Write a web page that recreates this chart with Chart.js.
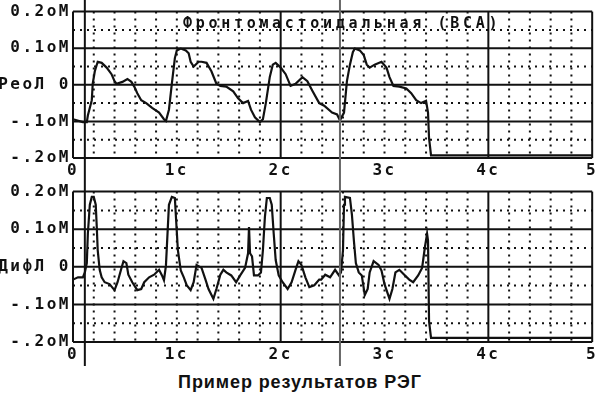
<!DOCTYPE html>
<html lang="ru">

<head>
    <meta charset="UTF-8">
    <title>Пример результатов РЭГ</title>
    <script src="https://cdn.jsdelivr.net/npm/chart.js"></script>
    <style>
        body {
            margin: 0;
            width: 600px;
            height: 410px;
            background: #fff;
            position: relative;
            overflow: hidden;
        }

        canvas {
            position: absolute;
            left: 0;
        }

        #reoChart { top: 0; }
        #difChart { top: 180px; }

        .caption {
            position: absolute;
            top: 372px;
            left: 0;
            width: 600px;
            text-align: center;
            font: bold 18px "Liberation Sans", Arial, sans-serif;
            letter-spacing: 0.9px;
            color: #111;
        }
    </style>
</head>

<body>
    <canvas id="reoChart" width="600" height="180"></canvas>
    <canvas id="difChart" width="600" height="186"></canvas>
    <div class="caption">Пример результатов РЭГ</div>

    <script>
        // x tick labels (seconds) and y tick labels for both panels
        const xTickLabels = ["0", "1c", "2c", "3c", "4c", "5"];
        const reoYLabels = ["-.2oM", "-.1oM", "РеоЛ 0", "0.1oM", "0.2oM"];
        const difYLabels = ["-.2oM", "-.1oM", "ДифЛ 0", "0.1oM", "0.2oM"];
        const reoTitle = "Фронтомастоидальная (ВСА)";

        // the two vertical cursor lines, in seconds
        const cursorTimes = [0.114, 2.571];

        // rheogram (top panel)
        const reoTime = [0, 0.095, 0.133, 0.143, 0.181, 0.19, 0.21, 0.238, 0.276, 0.324, 0.371, 0.4, 0.419, 0.476, 0.524, 0.562, 0.59, 0.619, 0.657, 0.705, 0.762, 0.829, 0.876, 0.895, 0.924, 0.952, 0.981, 1.0, 1.038, 1.086, 1.114, 1.133, 1.162, 1.21, 1.238, 1.286, 1.333, 1.381, 1.419, 1.476, 1.543, 1.59, 1.638, 1.686, 1.714, 1.752, 1.8, 1.829, 1.857, 1.895, 1.924, 1.952, 2.0, 2.048, 2.095, 2.143, 2.21, 2.257, 2.305, 2.371, 2.419, 2.495, 2.543, 2.571, 2.61, 2.638, 2.667, 2.695, 2.714, 2.762, 2.8, 2.829, 2.857, 2.905, 2.971, 3.019, 3.048, 3.086, 3.143, 3.21, 3.257, 3.305, 3.352, 3.4, 3.419, 3.429, 3.448, 5.0];
        const reoValues = [-0.094, -0.102, -0.102, -0.084, -0.042, 0.003, 0.037, 0.063, 0.06, 0.047, 0.029, 0.01, 0.003, 0.008, 0.016, 0.008, -0.005, -0.023, -0.042, -0.05, -0.063, -0.076, -0.094, -0.099, -0.068, 0.003, 0.073, 0.094, 0.099, 0.094, 0.086, 0.063, 0.05, 0.063, 0.063, 0.06, 0.037, 0.003, -0.003, -0.005, -0.018, -0.037, -0.05, -0.044, -0.068, -0.089, -0.102, -0.094, -0.05, 0.021, 0.055, 0.06, 0.047, 0.029, -0.003, 0.003, 0.021, 0.01, -0.016, -0.05, -0.057, -0.076, -0.081, -0.097, -0.076, 0.01, 0.055, 0.089, 0.099, 0.094, 0.081, 0.055, 0.047, 0.055, 0.063, 0.047, 0.021, -0.003, -0.005, -0.01, -0.023, -0.042, -0.05, -0.044, -0.076, -0.146, -0.193, -0.193];

        // differential rheogram (bottom panel)
        const difTime = [0, 0.048, 0.095, 0.114, 0.133, 0.143, 0.162, 0.181, 0.2, 0.219, 0.229, 0.238, 0.257, 0.276, 0.305, 0.352, 0.4, 0.429, 0.467, 0.486, 0.514, 0.533, 0.571, 0.619, 0.657, 0.686, 0.733, 0.781, 0.829, 0.857, 0.876, 0.895, 0.924, 0.952, 0.981, 0.99, 1.01, 1.038, 1.067, 1.095, 1.133, 1.162, 1.19, 1.238, 1.276, 1.305, 1.352, 1.381, 1.419, 1.448, 1.476, 1.524, 1.571, 1.61, 1.657, 1.686, 1.695, 1.705, 1.724, 1.743, 1.781, 1.81, 1.829, 1.848, 1.867, 1.895, 1.914, 1.933, 1.952, 1.981, 2.019, 2.067, 2.105, 2.143, 2.171, 2.2, 2.238, 2.276, 2.324, 2.371, 2.39, 2.429, 2.476, 2.524, 2.562, 2.581, 2.6, 2.61, 2.619, 2.667, 2.686, 2.705, 2.724, 2.752, 2.781, 2.81, 2.838, 2.857, 2.895, 2.943, 2.971, 3.0, 3.048, 3.076, 3.105, 3.143, 3.19, 3.238, 3.276, 3.324, 3.362, 3.39, 3.41, 3.419, 3.429, 3.448, 5.0];
        const difValues = [-0.034, -0.028, -0.028, -0.015, 0.01, 0.088, 0.165, 0.186, 0.186, 0.165, 0.106, 0.044, -0.008, -0.028, -0.041, -0.046, -0.062, -0.041, -0.003, 0.015, 0.01, -0.021, -0.041, -0.062, -0.059, -0.041, -0.028, -0.021, -0.008, -0.023, -0.036, 0.003, 0.165, 0.186, 0.183, 0.139, 0.044, -0.01, -0.028, -0.049, -0.062, -0.041, 0.005, -0.003, -0.034, -0.059, -0.085, -0.059, -0.021, -0.008, -0.015, -0.023, -0.041, -0.023, -0.003, 0.036, 0.106, 0.036, 0.028, -0.023, -0.023, -0.015, 0.044, 0.132, 0.183, 0.183, 0.165, 0.088, 0.018, -0.023, -0.041, -0.059, -0.041, -0.008, 0.015, 0.005, -0.028, -0.054, -0.049, -0.034, -0.034, -0.021, -0.028, -0.008, -0.023, -0.015, 0.044, 0.165, 0.186, 0.183, 0.139, 0.07, 0.01, -0.015, -0.023, -0.075, -0.059, -0.015, 0.015, 0.005, -0.01, -0.046, -0.085, -0.059, -0.015, -0.008, -0.021, -0.034, -0.041, -0.023, -0.003, 0.054, 0.088, 0.07, -0.145, -0.189, -0.189];

        const ink = "#111";
        const monoFont = '"DejaVu Sans Mono", monospace';

        // draws the monitor-style grid, cursors and panel title
        const regPlugin = {
            id: "regPlugin",
            beforeDraw(chart) {
                // wide old-monitor lettering for the tick labels
                chart.ctx.letterSpacing = "2.5px";
            },
            beforeDatasetsDraw(chart) {
                const { ctx, chartArea: a, scales: { x, y } } = chart;
                ctx.save();
                ctx.strokeStyle = ink;
                ctx.lineWidth = 2;

                // dotted lines every 0.2 s and every 0.05
                ctx.setLineDash([2, 5]);
                for (let i = 1; i < 25; i++) {
                    if (i % 10 === 0) continue;
                    drawLine(ctx, x.getPixelForValue(i * 0.2), a.top, x.getPixelForValue(i * 0.2), a.bottom);
                }
                [-0.15, -0.05, 0.05, 0.15].forEach(v => {
                    drawLine(ctx, a.left, y.getPixelForValue(v), a.right, y.getPixelForValue(v));
                });

                // solid lines
                ctx.setLineDash([]);
                [0, 2, 4, 5].forEach(t => {
                    drawLine(ctx, x.getPixelForValue(t), a.top, x.getPixelForValue(t), a.bottom);
                });
                [-0.2, -0.1, 0, 0.1, 0.2].forEach(v => {
                    drawLine(ctx, a.left, y.getPixelForValue(v), a.right, y.getPixelForValue(v));
                });
                ctx.restore();
            },
            afterDatasetsDraw(chart, args, opts) {
                const { ctx, chartArea: a, scales: { x } } = chart;
                ctx.save();
                ctx.lineWidth = 2;
                cursorTimes.forEach((t, i) => {
                    ctx.strokeStyle = i === 0 ? ink : "#666";
                    drawLine(ctx, x.getPixelForValue(t), 0, x.getPixelForValue(t), chart.height);
                });

                if (opts.title) {
                    ctx.fillStyle = ink;
                    ctx.font = "bold 15px " + monoFont;
                    ctx.letterSpacing = "3.7px";
                    ctx.textBaseline = "middle";
                    ctx.textAlign = "left";
                    ctx.fillText(opts.title, a.left + 110, a.top + 13);
                }
                ctx.restore();
            }
        };

        function drawLine(ctx, x1, y1, x2, y2) {
            ctx.beginPath();
            ctx.moveTo(x1, y1);
            ctx.lineTo(x2, y2);
            ctx.stroke();
        }

        function makeChart(id, times, values, yLabels, topPad, xHeight, title) {
            const ctx = document.getElementById(id).getContext("2d");
            const points = times.map((t, i) => ({ x: t, y: values[i] }));

            return new Chart(ctx, {
                type: "line",
                data: {
                    datasets: [{
                        data: points,
                        borderColor: ink,
                        borderWidth: 2.2,
                        pointRadius: 0,
                        tension: 0,
                        fill: false
                    }]
                },
                options: {
                    responsive: false,
                    animation: false,
                    devicePixelRatio: 1,
                    layout: { padding: { top: topPad, right: 2, left: 0, bottom: 0 }, autoPadding: false },
                    plugins: {
                        legend: { display: false },
                        tooltip: { enabled: false },
                        regPlugin: { title: title }
                    },
                    scales: {
                        x: {
                            type: "linear",
                            min: 0,
                            max: 5,
                            grid: { display: false, drawTicks: false },
                            border: { display: false },
                            afterFit(s) { s.height = xHeight; },
                            ticks: {
                                stepSize: 1,
                                autoSkip: false,
                                maxRotation: 0,
                                padding: 3,
                                color: ink,
                                font: { family: monoFont, weight: "bold", size: 16 },
                                callback: v => xTickLabels[Math.round(v)]
                            }
                        },
                        y: {
                            min: -0.2,
                            max: 0.2,
                            grid: { display: false, drawTicks: false },
                            border: { display: false },
                            afterFit(s) { s.width = 73; },
                            ticks: {
                                stepSize: 0.1,
                                padding: 2,
                                color: ink,
                                font: { family: monoFont, weight: "bold", size: 16 },
                                callback: v => yLabels[Math.round((v + 0.2) * 10)]
                            }
                        }
                    }
                },
                plugins: [regPlugin]
            });
        }

        makeChart("reoChart", reoTime, reoValues, reoYLabels, 5, 22, reoTitle);
        makeChart("difChart", difTime, difValues, difYLabels, 7, 24, null);
    </script>
</body>

</html>
